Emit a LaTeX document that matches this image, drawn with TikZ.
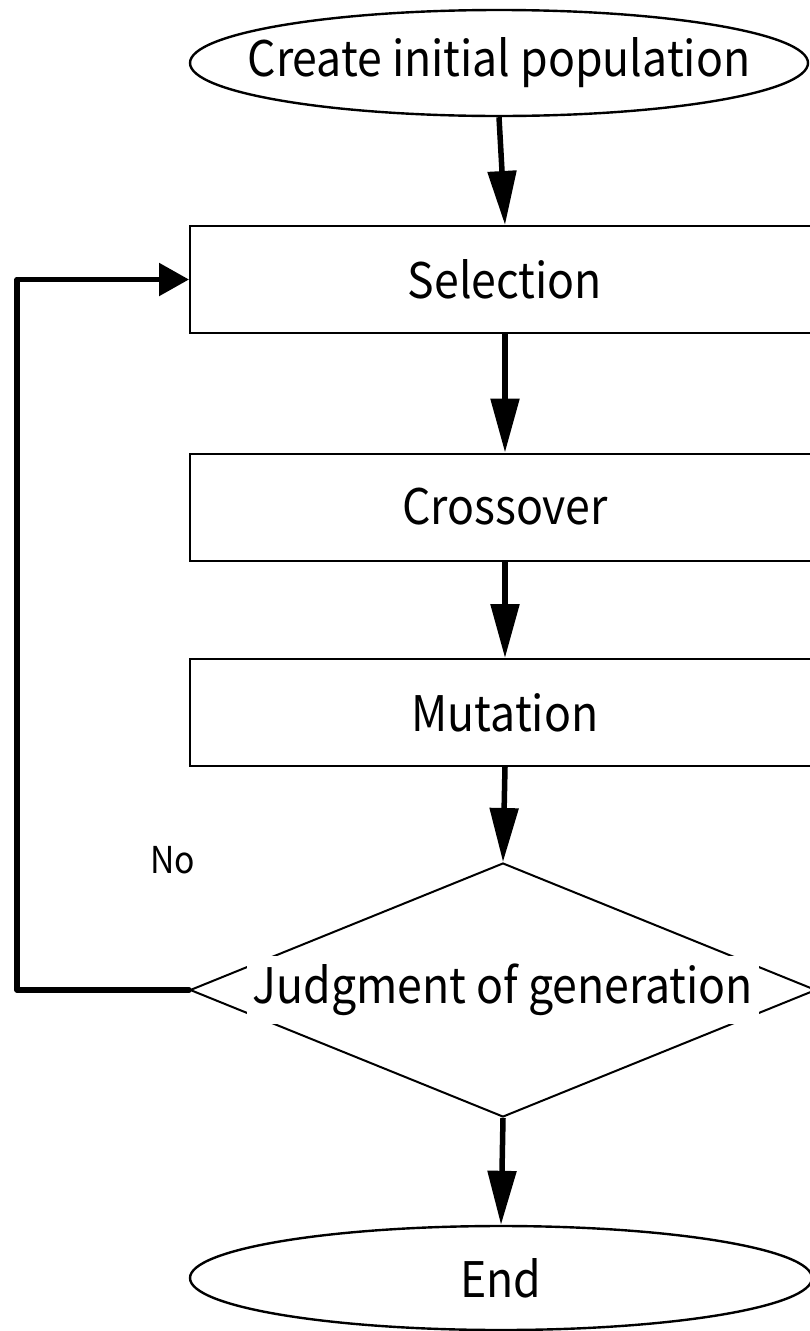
\documentclass[tikz,border=0pt]{standalone}
\usepackage{fontspec}
\setmainfont[FakeStretch=0.91]{Noto Sans CJK JP}
\usetikzlibrary{shapes.geometric,arrows.meta}

\begin{document}
\begin{tikzpicture}[x=1pt,y=-1pt,
  every node/.style={font=\fontsize{49}{58}\selectfont},
  terminal/.style={ellipse,draw,line width=2.4pt,inner sep=0pt,minimum width=618pt,minimum height=106pt},
  process/.style={rectangle,draw,line width=2pt,inner sep=0pt,minimum width=630pt,minimum height=107pt},
  decision/.style={diamond,draw,line width=2pt,inner sep=0pt,minimum width=626pt,minimum height=254pt},
  flow/.style={line width=5.5pt,-{Triangle[length=54pt,width=28pt]}},
  back/.style={line width=5.5pt,line join=round,line cap=round,-{Triangle[length=30pt,width=32pt]}}
]
\useasboundingbox (0,0) rectangle (810,1331);
\clip (0,0) rectangle (810,1331);

% nodes
\node[terminal,label={center:Create initial population}] (start) at (499,63) {};
\node[process] (sel) at (505,279.5) {Selection};
\node[process] (cross) at (505,507) {Crossover};
\node[process] (mut) at (505,712.5) {Mutation};
\node[decision] (judge) at (503,990) {};
\node[fill=white,inner xsep=0pt,minimum width=512pt,minimum height=68pt] (jtext) at (judge.center) {Judgment of generation};
\node[terminal,minimum width=622pt,minimum height=104pt,label={center:End}] (end) at (501,1278) {};
\node[font=\fontsize{37}{44}\selectfont] (no) at (173,860) {No};

% connectors
\draw[flow] (start.south) -- (sel.north);
\draw[flow] (sel.south) -- (cross.north);
\draw[flow] (cross.south) -- (mut.north);
\draw[flow] (mut.south) -- (judge.north);
\draw[flow] (judge.south) -- (end.north);

\coordinate (loop) at (17,990);
\draw[back] (judge.west) -- (loop) |- (sel.west);
\end{tikzpicture}
\end{document}
